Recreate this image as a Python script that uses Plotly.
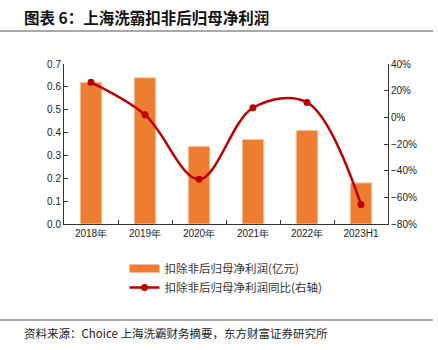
import plotly.graph_objects as go

categories = ["2018年", "2019年", "2020年", "2021年", "2022年", "2023H1"]
profit = [0.62, 0.64, 0.34, 0.37, 0.41, 0.18]
yoy = [26.3, 2.0, -46.5, 7.2, 11.2, -65.3]

L, R, T, B = 64, 50, 64, 126
W, H = 438, 350
pw = W - L - R
ph = H - T - B


def px(x):
    return (x - L) / pw


def py(y):
    return (H - B - y) / ph


fig = go.Figure()
fig.add_trace(go.Bar(
    x=categories, y=profit, name="扣除非后归母净利润(亿元)",
    marker=dict(color="#ED7D31", line=dict(color="#F8CBAD", width=1)),
    yaxis="y", showlegend=False,
))
# legend entry for the bars (wide swatch like the original)
fig.add_trace(go.Scatter(
    x=[categories[0]], y=[None], name="扣除非后归母净利润(亿元)",
    mode="lines", line=dict(color="#ED7D31", width=8), yaxis="y",
))
fig.add_trace(go.Scatter(
    x=categories, y=yoy, name="扣除非后归母净利润同比(右轴)",
    mode="lines+markers", line=dict(color="#C00000", width=2.5, shape="spline", smoothing=1.0),
    marker=dict(color="#C00000", size=7), yaxis="y2",
))

tickfont = dict(family="Liberation Sans, Arial", size=10, color="#222")
fig.update_layout(
    width=W, height=H,
    margin=dict(l=L, r=R, t=T, b=B),
    paper_bgcolor="white", plot_bgcolor="white",
    bargap=0.6,
    showlegend=True,
    legend=dict(x=0.5, xanchor="center", y=py(254), yanchor="top",
                font=dict(family="Noto Sans CJK SC", size=11.5, color="#333"),
                tracegroupgap=2, itemwidth=30, bgcolor="rgba(0,0,0,0)"),
    xaxis=dict(showline=True, linecolor="#333", linewidth=1, ticks="inside",
               tickson="boundaries", ticklen=4, tickcolor="#333",
               tickfont=tickfont, showgrid=False),
    yaxis=dict(range=[0, 0.7], dtick=0.1, tickformat=".1f", showline=True,
               linecolor="#333", linewidth=1, ticks="inside", ticklen=4,
               tickcolor="#333", tickfont=tickfont, showgrid=False, zeroline=False),
    yaxis2=dict(range=[-80, 40], dtick=20, ticksuffix="%", overlaying="y", side="right",
                showline=True, linecolor="#333", linewidth=1, ticks="inside", ticklen=4,
                tickcolor="#333", tickfont=tickfont, showgrid=False, zeroline=False),
    font=dict(family="Noto Sans CJK SC"),
)

fig.add_annotation(text="<b>图表 6：上海洗霸扣非后归母净利润</b>", xref="paper", yref="paper",
                   x=px(22), y=py(17), xanchor="left", yanchor="middle", showarrow=False,
                   font=dict(family="Noto Sans CJK SC", size=15.5, color="#111"))
fig.add_shape(type="line", xref="paper", yref="paper", x0=px(0), x1=px(433),
              y0=py(31), y1=py(31), line=dict(color="#555", width=1.2))
fig.add_shape(type="line", xref="paper", yref="paper", x0=px(0), x1=px(433),
              y0=py(320), y1=py(320), line=dict(color="#555", width=1.2))
fig.add_annotation(text="资料来源：Choice 上海洗霸财务摘要，东方财富证券研究所", xref="paper", yref="paper",
                   x=px(22), y=py(333), xanchor="left", yanchor="middle", showarrow=False,
                   font=dict(family="Noto Sans CJK SC", size=11.5, color="#222"))

fig.write_html("out.html")
